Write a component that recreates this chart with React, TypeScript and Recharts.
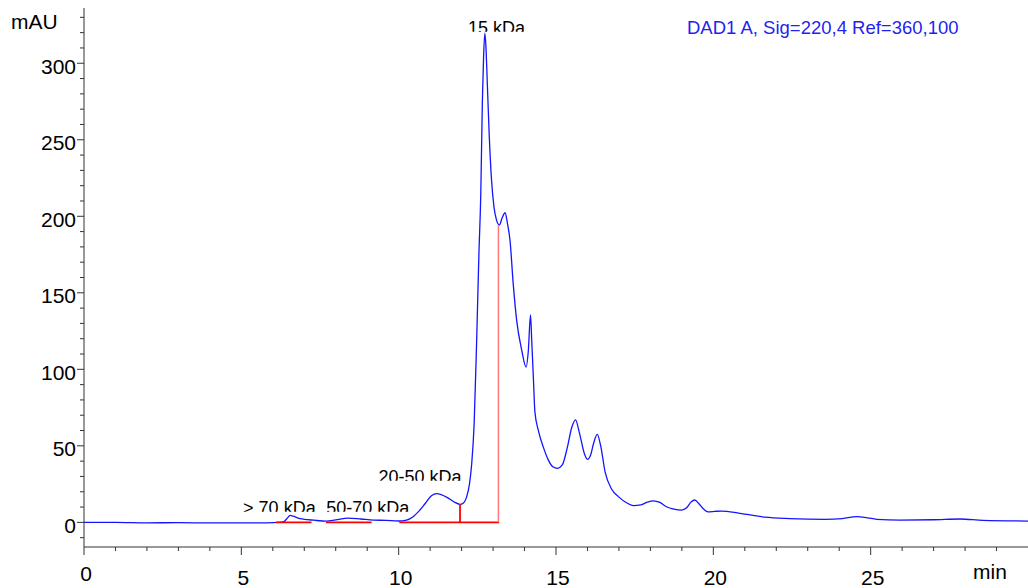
import { LineChart, Line, XAxis, YAxis, ReferenceDot } from "recharts";

// retention time (min) and detector response (mAU)
const times = [
  0, 1, 2, 3, 4, 5, 5.8, 6.2, 6.35, 6.45, 6.55, 6.65, 6.8, 7.0, 7.3, 7.7, 8.0, 8.4, 8.8, 9.2, 9.6,
  10.0, 10.25, 10.45, 10.65, 10.85, 11.05, 11.2, 11.35, 11.55, 11.75, 11.95, 12.05, 12.15, 12.25,
  12.32, 12.4, 12.48, 12.55, 12.61, 12.66, 12.7, 12.74, 12.78, 12.82, 12.88, 12.95, 13.03, 13.11,
  13.2, 13.29, 13.38, 13.46, 13.54, 13.64, 13.75, 13.91, 14.05, 14.12, 14.19, 14.23, 14.28, 14.33,
  14.44, 14.6, 14.75, 14.9, 15.05, 15.2, 15.35, 15.5, 15.62, 15.75, 15.9, 16.0, 16.1, 16.2, 16.31,
  16.42, 16.56, 16.77, 17.0, 17.24, 17.45, 17.7, 17.9, 18.09, 18.3, 18.51, 18.75, 18.99, 19.15,
  19.3, 19.41, 19.55, 19.7, 19.83, 20.05, 20.26, 20.84, 21.64, 22.43, 23.55, 24.1, 24.55, 24.9,
  25.19, 25.93, 26.99, 27.84, 28.57, 30,
];
const mau = [
  0, 0, -0.3, -0.2, -0.4, -0.4, -0.3, 0, 0.5, 2.5, 4.5, 4.0, 2.8, 2.0, 1.4, 0.8, 1.6, 2.8, 2.2, 1.5, 1.3,
  0.9, 1.5, 3.5, 7.5, 12.5, 17.5, 18.8, 18.2, 16.2, 13.5, 11.8, 12.5, 16, 25,
  38, 65, 120, 175, 215, 275, 305, 319.6, 308, 285, 252, 224, 206, 197.5,
  194.3, 199, 202.3, 195, 184, 156, 132, 112.6, 101.5, 112, 135.5, 118, 95, 72,
  60, 49, 41, 36.3, 35.3, 37.5, 48, 62, 67, 58, 45, 41.2, 44, 52, 57.5,
  50, 33, 21.6, 16.5, 12.8, 11, 11.4, 13.2, 14.1, 13, 10.2, 8.6, 8, 9.5,
  13.5, 14.6, 12, 8.5, 6.9, 7.2, 7.4, 5.9, 3.4, 2.5, 2.0, 2.5, 3.7, 3,
  2, 1.5, 1.7, 2.2, 1.3, 0.85,
];

// integration baselines (start, end in min) and peak drop lines
const baselines = [
  [6.1, 7.23],
  [7.69, 9.14],
  [10.02, 13.19],
];
const dropTimes = [11.95, 13.17];
const dropHeights = [11.8, 194];

const peakNames = ["> 70 kDa", "50-70 kDa", "20-50 kDa", "15 kDa"];
const peakTimes = [6.55, 8.4, 11.2, 12.74];
const peakHeights = [4.5, 2.8, 18.8, 319.6];

const yTicks = Array.from({ length: 35 }, (_, i) => -10 + i * 10);
const xTicks = Array.from({ length: 30 }, (_, i) => i);

const signal = times.map((t, i) => ({ t, v: mau[i] }));

const FONT = "'Liberation Sans', Arial, Helvetica, sans-serif";
const AXIS = "#333";
const BLUE = "#1414ff";
const RED = "#ff0000";

// text placement relative to each peak apex: [dx, baseline dy]
const labelNudge = [
  [-47, -1.4],
  [-22, -4],
  [-58, -10.5],
  [-17, 0.7],
];

function YTick({ x, y, payload }: any) {
  const v = payload.value;
  const major = v % 50 === 0;
  return (
    <g>
      <line x1={x - (major ? 7 : 4)} x2={x} y1={y} y2={y} stroke={AXIS} strokeWidth={1} />
      {major && (
        <text x={x - 8} y={y + 10.5} textAnchor="end" fontSize={21} fontFamily={FONT} fill="#000">
          {v}
        </text>
      )}
    </g>
  );
}

function XTick({ x, y, payload }: any) {
  const v = payload.value;
  const major = v % 5 === 0;
  return (
    <g>
      <line x1={x} x2={x} y1={y} y2={y + (major ? 8 : 4)} stroke={AXIS} strokeWidth={1} />
      {major && (
        <text x={x + 2} y={v === 0 ? y + 34 : y + 38} textAnchor="middle" fontSize={21} fontFamily={FONT} fill="#000">
          {v}
        </text>
      )}
    </g>
  );
}

function PeakLabel({ cx, cy, idx }: any) {
  const [dx, dy] = labelNudge[idx];
  const id = `peak-clip-${idx}`;
  const base = cy + dy;
  return (
    <g>
      <defs>
        <clipPath id={id}>
          <rect x={cx - 200} y={base - 40} width={400} height={40 - 2.3} />
        </clipPath>
      </defs>
      <text x={cx + dx} y={base} fontSize={18} fontFamily={FONT} fill="#000" clipPath={`url(#${id})`}>
        {peakNames[idx]}
      </text>
    </g>
  );
}

export default function App() {
  return (
    <div style={{ position: "absolute", left: 0, top: 0, width: 1028, height: 588, background: "#fff" }}>
      <LineChart width={1028} height={588} margin={{ top: 8, right: 0, bottom: 0, left: 0 }}>
        <XAxis
          dataKey="t"
          type="number"
          domain={[0, 30]}
          allowDataOverflow
          ticks={xTicks}
          interval={0}
          height={41}
          tickSize={0}
          tickMargin={0}
          tick={<XTick />}
          axisLine={{ stroke: AXIS, strokeWidth: 1 }}
        />
        <YAxis
          type="number"
          domain={[-16.1, 336.1]}
          allowDataOverflow
          ticks={yTicks}
          interval={0}
          width={84}
          tickSize={0}
          tickMargin={0}
          tick={<YTick />}
          axisLine={{ stroke: AXIS, strokeWidth: 1 }}
        />
        <Line
          data={signal}
          dataKey="v"
          type="monotone"
          stroke={BLUE}
          strokeWidth={1.3}
          dot={false}
          isAnimationActive={false}
        />
        {baselines.map(([a, b], i) => (
          <Line
            key={`base-${i}`}
            data={[
              { t: a, v: 0 },
              { t: b, v: 0 },
            ]}
            dataKey="v"
            type="linear"
            stroke={RED}
            strokeWidth={1.6}
            dot={false}
            isAnimationActive={false}
          />
        ))}
        {dropTimes.map((t, i) => (
          <Line
            key={`drop-${i}`}
            data={[
              { t, v: 0 },
              { t, v: dropHeights[i] },
            ]}
            dataKey="v"
            type="linear"
            stroke={i === 0 ? RED : "#ff7878"}
            strokeWidth={i === 0 ? 1.8 : 1.5}
            dot={false}
            isAnimationActive={false}
          />
        ))}
        {peakTimes.map((t, i) => (
          <ReferenceDot
            key={`peak-${i}`}
            x={t}
            y={peakHeights[i]}
            r={0}
            ifOverflow="visible"
            shape={(p: any) => <PeakLabel cx={p.cx} cy={p.cy} idx={i} />}
          />
        ))}
        <text x={11} y={29} fontSize={21} fontFamily={FONT} fill="#000">
          mAU
        </text>
        <text x={973} y={579} fontSize={21} fontFamily={FONT} fill="#000">
          min
        </text>
        <text x={687} y={34} fontSize={18.5} fontFamily={FONT} fill="#1f1ff0">
          DAD1 A, Sig=220,4 Ref=360,100
        </text>
      </LineChart>
    </div>
  );
}
